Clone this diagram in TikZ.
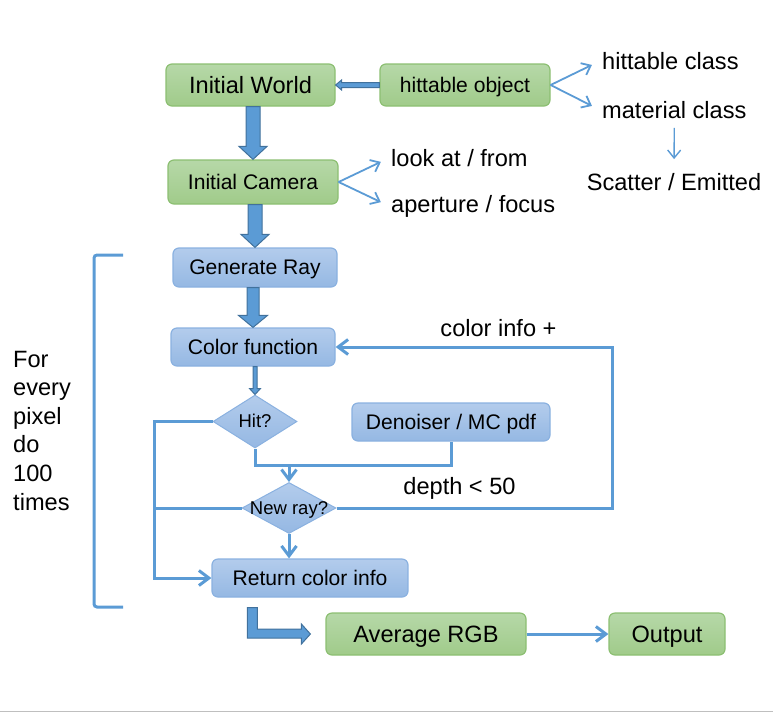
\documentclass[tikz,border=0pt]{standalone}
\usepackage{fontspec}
\setmainfont{Liberation Sans}
\usetikzlibrary{shapes.geometric,arrows.meta,calc}
\definecolor{lineblue}{HTML}{5B9BD5}
\definecolor{blockedge}{HTML}{41719C}
\definecolor{greentop}{HTML}{B6D8A8}
\definecolor{greenbot}{HTML}{A0CB8A}
\definecolor{greenedge}{HTML}{8CBF72}
\definecolor{bluetop}{HTML}{B3CCEC}
\definecolor{bluebot}{HTML}{95B8E3}
\definecolor{blueedge}{HTML}{8AB1E0}
\newcommand{\bigfont}{\fontsize{23.6}{28.6}\selectfont}
\newcommand{\midfont}{\fontsize{21.1}{25}\selectfont}
\newcommand{\smallfont}{\fontsize{18.5}{22}\selectfont}
\newcommand{\downblock}[5]{%
  \draw[blockarrow] let \p1=(#4.south), \p2=(#5.north) in
    (\x2-#1pt,\y1) -- (\x2-#1pt,\y2+#3pt) -- (\x2-#2pt,\y2+#3pt) -- (\x2,\y2)
    -- (\x2+#2pt,\y2+#3pt) -- (\x2+#1pt,\y2+#3pt) -- (\x2+#1pt,\y1) -- cycle;}
\tikzset{
  bigtext/.style={font=\bigfont, text height=21.2pt, text depth=4.7pt},
  midtext/.style={font=\midfont, text height=19pt, text depth=4.2pt},
  smalltext/.style={font=\smallfont, text height=16.6pt, text depth=3.7pt},
  greenbox/.style={draw=greenedge, line width=1.2pt, rounded corners=6pt,
    top color=greentop, bottom color=greenbot, inner sep=0pt},
  bluebox/.style={draw=blueedge, line width=1.2pt, rounded corners=6pt,
    top color=bluetop, bottom color=bluebot, inner sep=0pt, midtext},
  decision/.style={diamond, draw=blueedge, line width=1pt,
    top color=bluetop, bottom color=bluebot, inner sep=0pt, smalltext},
  txt/.style={inner sep=2pt, font=\bigfont},
  flow/.style={draw=lineblue, line width=3pt},
  flowarrow/.style={flow, -{Straight Barb[length=10pt,width=15pt]}},
  fan/.style={draw=lineblue, line width=1.8pt, -{Straight Barb[length=8pt,width=13pt]}},
  blockarrow/.style={fill=lineblue, draw=blockedge, line width=1pt},
}
\begin{document}
\begin{tikzpicture}[x=1pt,y=-1pt]
  \useasboundingbox (0,0) rectangle (773,713);
  \node[greenbox, minimum width=169pt, minimum height=42pt, bigtext] (world) at (250.5,85) {Initial World};
  \node[greenbox, minimum width=170pt, minimum height=42pt, midtext] (hobj) at (465,85) {hittable object};
  \node[greenbox, minimum width=170pt, minimum height=44pt, midtext] (camera) at (253,182) {Initial Camera};
  \node[bluebox, minimum width=164pt, minimum height=39pt] (genray) at (255,267.5) {Generate Ray};
  \node[bluebox, minimum width=164pt, minimum height=38pt] (colorf) at (253,347) {Color function};
  \node[decision, minimum width=84pt, minimum height=53pt] (hit) at (255,421.5) {\makebox[0pt]{Hit?}};
  \node[bluebox, minimum width=198pt, minimum height=38pt] (denoise) at (451,422) {Denoiser / MC pdf};
  \node[decision, minimum width=94pt, minimum height=51pt] (newray) at (289,508) {\makebox[0pt]{New ray?}};
  \node[bluebox, minimum width=196pt, minimum height=38pt] (ret) at (310,578) {Return color info};
  \node[greenbox, minimum width=200pt, minimum height=42pt, bigtext] (avg) at (426,634) {Average RGB};
  \node[greenbox, minimum width=116pt, minimum height=42pt, bigtext] (out) at (667,634) {Output};

  \node[txt, anchor=west] (lookat) at (389,158) {look at / from};
  \node[txt, anchor=west] (aperture) at (389,206) {aperture / focus};
  \node[txt, anchor=west] (hclass) at (600,61) {hittable class};
  \node[txt, anchor=west] (mclass) at (600,110) {material class};
  \node[txt] (scatter) at (674,182) {Scatter / Emitted};
  \node[txt] (colorinfo) at (498.5,328) {color info +};
  \node[txt] (depth) at (459.5,488) {depth < 50};
  \node[txt, align=left, anchor=west] (pixnote) at (11,430.5) {For\\every\\pixel\\do\\100\\times};

  \draw[blockarrow] let \p1=(hobj.west), \p2=(world.east) in
    (\x1,\y1+2.5pt) -- (\x2+6pt,\y1+2.5pt) -- (\x2+6pt,\y1+5pt) -- (\x2,\y1)
    -- (\x2+6pt,\y1-5pt) -- (\x2+6pt,\y1-2.5pt) -- (\x1,\y1-2.5pt) -- cycle;
  \downblock{7}{14}{13}{world}{camera}
  \downblock{7}{14}{13}{camera}{genray}
  \downblock{6}{14.5}{12}{genray}{colorf}
  \downblock{2}{5.5}{6}{colorf}{hit}
  \draw[blockarrow] let \p1=(ret.south west), \p2=(avg.west) in
    (\x1+36pt,\y1-10pt) -- (\x1+46pt,\y1-10pt) -- (\x1+46pt,\y2+5pt) -- (\x2-24pt,\y2+5pt)
    -- (\x2-24pt,\y2+10pt) -- (\x2-15pt,\y2) -- (\x2-24pt,\y2-10pt) -- (\x2-24pt,\y2-4pt)
    -- (\x1+36pt,\y2-4pt) -- cycle;

  \draw[fan, shorten >=9pt] (camera.east) -- (lookat.west);
  \draw[fan, shorten >=9pt] (camera.east) -- (aperture.west);
  \draw[fan, shorten >=9pt] (hobj.east) -- (hclass.west);
  \draw[fan, shorten >=9pt] (hobj.east) -- (mclass.west);
  \draw[fan, line width=1.4pt, shorten <=7pt, shorten >=12pt] (mclass.south) -- (scatter.north);

  \coordinate (merge) at ([yshift=17pt]newray.north);
  \draw[flow] (hit.south) |- (merge) -| (denoise.south);
  \draw[flowarrow] (merge) -- (newray.north);
  \draw[flowarrow] (newray.east) -- ++(276,0) |- (colorf.east);
  \draw[flowarrow] (hit.west) -- ++(-58,0) |- (ret.west);
  \draw[flow] (newray.west) -- ++(-87,0);
  \draw[flowarrow] (newray.south) -- (newray.south |- ret.north);
  \draw[flowarrow] (avg.east) -- (out.west);

  \draw[flow, rounded corners=3pt] (123,255) -- (94,255) -- (94,607) -- (123,607);
  \draw[gray!50, line width=1.5pt] (0,711.5) -- (773,711.5);
\end{tikzpicture}
\end{document}
